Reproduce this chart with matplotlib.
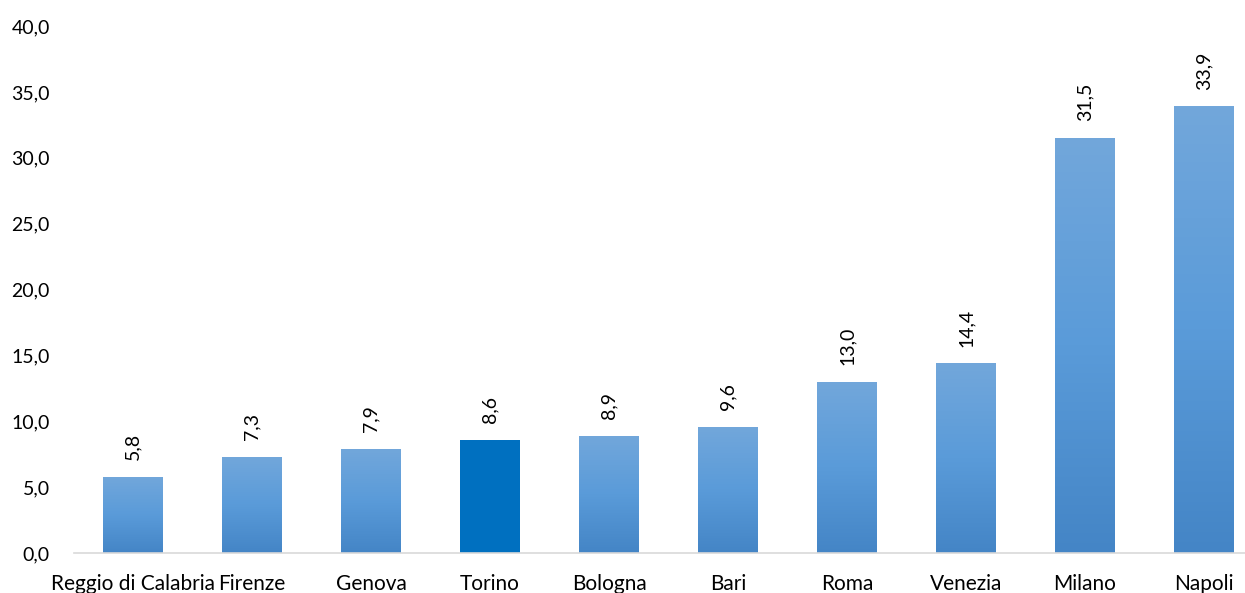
import matplotlib
matplotlib.use('Agg')
import matplotlib.pyplot as plt
from matplotlib.colors import LinearSegmentedColormap
import numpy as np

cities = ['Reggio di Calabria', 'Firenze', 'Genova', 'Torino', 'Bologna',
          'Bari', 'Roma', 'Venezia', 'Milano', 'Napoli']
values = [5.8, 7.3, 7.9, 8.6, 8.9, 9.6, 13.0, 14.4, 31.5, 33.9]
labels = ['5,8', '7,3', '7,9', '8,6', '8,9', '9,6', '13,0', '14,4', '31,5', '33,9']
highlight = 'Torino'

plt.rcParams['font.family'] = ['Lato', 'DejaVu Sans']

fig = plt.figure(figsize=(12.45, 5.93), dpi=100)
ax = fig.add_axes([73.5 / 1245, 40 / 593, 1190 / 1245, 527 / 593])

grad = LinearSegmentedColormap.from_list('g', ['#4485C6', '#5A9BD9', '#72A7DB'])
x = np.arange(len(cities))
bars = ax.bar(x, values, width=0.5, color='none', edgecolor='none')
for b, c, v in zip(bars, cities, values):
    if c == highlight:
        b.set_facecolor('#0070C0')
    else:
        x0, w, h = b.get_x(), b.get_width(), b.get_height()
        img = ax.imshow(np.linspace(0, 1, 256).reshape(-1, 1), cmap=grad,
                        origin='lower', aspect='auto',
                        extent=[x0, x0 + w, 0, h], zorder=2)
        img.set_clip_path(b)

for xi, v, lab in zip(x, values, labels):
    ax.annotate(lab, (xi, v), xytext=(0, 12), textcoords='offset points',
                rotation=90, ha='center', va='bottom', fontsize=14, color='#000000')

ax.set_xlim(-0.5, len(cities) - 0.5)
ax.set_ylim(0, 40)
ax.set_yticks(np.arange(0, 41, 5))
ax.set_yticklabels([f'{t:.1f}'.replace('.', ',') for t in np.arange(0, 41, 5)])
ax.set_xticks(x)
ax.set_xticklabels(cities)
ax.tick_params(axis='x', length=0, labelsize=15, colors='#000000', pad=15)
ax.tick_params(axis='y', length=0, labelsize=14, colors='#000000', pad=17)
for s in ['top', 'right', 'left']:
    ax.spines[s].set_visible(False)
ax.spines['bottom'].set_color('#D9D9D9')
ax.spines['bottom'].set_linewidth(1.2)

fig.savefig('out.png', dpi=100)
